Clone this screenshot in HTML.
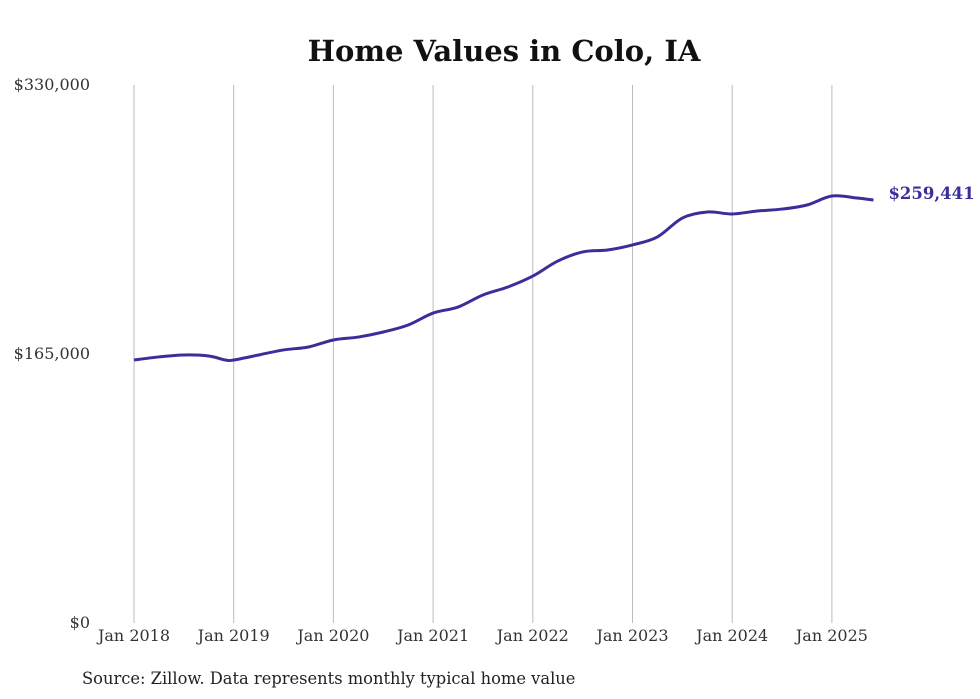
<!DOCTYPE html>
<html><head><meta charset="utf-8">
<style>
body{margin:0;background:#fff;}
svg{display:block;font-family:"DejaVu Serif","Liberation Serif",serif;}
</style></head>
<body>
<svg id="chart" width="980" height="699" viewBox="0 0 980 699">
<text x="504" y="61" text-anchor="middle" font-size="29" font-weight="bold" fill="#111">Home Values in Colo, IA</text>
<g id="grid"></g>
<g id="yticks"></g>
<g id="xticks"></g>
<path id="line" fill="none" stroke="#3a2f9a" stroke-width="3" stroke-linejoin="round"></path>
<text id="endlabel" font-size="16.5" font-weight="bold" fill="#3a2f9a"></text>
<text x="82" y="684" font-size="16.3" fill="#222">Source: Zillow. Data represents monthly typical home value</text>
</svg>
<script>
const months = [0,3,6,9,11,12,15,18,21,24,27,30,33,36,39,42,45,48,51,54,57,60,63,66,69,72,75,78,81,84,87,89];
const values = [161300,163200,164400,163800,161300,161300,164400,167500,169300,173600,175400,178500,182800,190100,193800,201200,206100,212800,222000,227600,228800,231900,236800,248400,252100,250900,252700,253900,256400,261900,260700,259441];
const yTicks = [0,165000,330000];
const yTickLabels = ["$0","$165,000","$330,000"];
const xTickYears = [2018,2019,2020,2021,2022,2023,2024,2025];
const xTickLabels = ["Jan 2018","Jan 2019","Jan 2020","Jan 2021","Jan 2022","Jan 2023","Jan 2024","Jan 2025"];

const NS="http://www.w3.org/2000/svg";
const x0=134, pxPerYear=99.7, yTop=85, yBot=623, yMax=330000;
const xScale=m=>x0+m/12*pxPerYear;
const yScale=v=>yBot-(v/yMax)*(yBot-yTop);
const grid=document.getElementById('grid'), xt=document.getElementById('xticks'), yt=document.getElementById('yticks');
xTickYears.forEach((yr,i)=>{
  const x=xScale((yr-2018)*12);
  const l=document.createElementNS(NS,'line');
  l.setAttribute('x1',x);l.setAttribute('x2',x);l.setAttribute('y1',yTop);l.setAttribute('y2',yBot);
  l.setAttribute('stroke','#bbb');l.setAttribute('stroke-width','1');
  
  
  grid.appendChild(l);
  const t=document.createElementNS(NS,'text');
  t.setAttribute('x',x);t.setAttribute('y',641);t.setAttribute('text-anchor','middle');
  t.setAttribute('font-size','16');t.setAttribute('fill','#333');
  t.textContent=xTickLabels[i];
  
  
  xt.appendChild(t);
});
yTicks.forEach((v,i)=>{
  const t=document.createElementNS(NS,'text');
  t.setAttribute('x',90);t.setAttribute('y',yScale(v)+5);t.setAttribute('text-anchor','end');
  t.setAttribute('font-size','16');t.setAttribute('fill','#333');
  t.textContent=yTickLabels[i];
  
  
  yt.appendChild(t);
});
const pts=months.map((m,i)=>[xScale(m),yScale(values[i])]);
let d='M'+pts[0][0]+','+pts[0][1];
for(let i=0;i<pts.length-1;i++){
  const p0=pts[i-1]||pts[i],p1=pts[i],p2=pts[i+1],p3=pts[i+2]||p2;
  const c1=[p1[0]+(p2[0]-p0[0])/6,p1[1]+(p2[1]-p0[1])/6];
  const c2=[p2[0]-(p3[0]-p1[0])/6,p2[1]-(p3[1]-p1[1])/6];
  d+=' C'+c1+' '+c2+' '+p2;
}
document.getElementById('line').setAttribute('d',d);
const last=pts[pts.length-1];
const el=document.getElementById('endlabel');
el.setAttribute('x',last[0]+15);el.setAttribute('y',last[1]-1);
el.textContent='$'+values[values.length-1].toLocaleString('en-US');
</script>
</body></html>
